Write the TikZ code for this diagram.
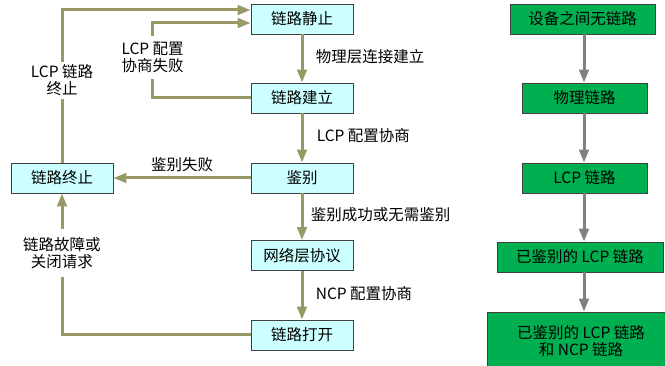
\documentclass[tikz,border=0pt]{standalone}
\usepackage{fontspec}
\setmainfont{Noto Sans CJK SC}
\usetikzlibrary{arrows.meta}

\definecolor{boxcyan}{RGB}{204,255,255}
\definecolor{linkgreen}{RGB}{0,176,80}
\definecolor{flowolive}{RGB}{153,153,102}
\definecolor{flowgray}{RGB}{128,128,128}

\begin{document}
\begin{tikzpicture}[x=1pt, y=-1pt, font=\fontsize{15.5}{17}\selectfont,
	phase/.style={draw=black!75, line width=0.8pt, fill=boxcyan, minimum width=102pt, minimum height=30pt, inner sep=0pt},
	linkbox/.style={draw=black!75, line width=0.8pt, fill=linkgreen, minimum height=30pt, inner sep=0pt, align=center},
	flow/.style={draw=flowolive, line width=3pt, -{Triangle[length=13pt,width=9.5pt]}},
	stagearrow/.style={draw=flowgray, line width=3pt, -{Triangle[length=13pt,width=9.5pt]}},
	gaptext/.style={fill=white, inner xsep=1pt}]
\useasboundingbox (0,0) rectangle (665,366);
% left: phases
\node[phase] (still) at (302,19) {链路静止};
\node[phase] (estab) at (302,98) {链路建立};
\node[phase] (auth) at (302,178) {鉴别};
\node[phase] (netp) at (302,255.5) {网络层协议};
\node[phase] (opened) at (302,335) {链路打开};
\node[phase] (term) at (62,178) {链路终止};
\foreach \a/\b/\t/\s in {still/estab/物理层连接建立/9, estab/auth/LCP 配置协商/10, auth/netp/鉴别成功或无需鉴别/4, netp/opened/NCP 配置协商/9}
	\draw[flow] (\a) -- (\b) node[midway, anchor=west, xshift=\s pt, yshift=2pt] (\a lbl) {\t};
\draw[flow] (auth) -- (term) node[midway, above=1pt] (faillbl) {鉴别失败};
\draw[flow] (opened.west) -| (term.south) node[pos=0.79, gaptext, inner ysep=8pt, align=center] (downlbl) {链路故障或\\关闭请求};
\draw[flow] (term.north) |- ([yshift=9pt]still.west) node[pos=0.27, gaptext, inner ysep=3pt, align=center] (endlbl) {LCP 链路\\终止};
\draw[flow] (estab.west) -- ++(-98,0) |- ([yshift=-4pt]still.west) node[pos=0.27, gaptext, inner ysep=6pt, align=left] (neglbl) {LCP 配置\\协商失败};
% right: link states
\node[linkbox, minimum width=145pt] (none) at (582.5,19) {设备之间无链路};
\node[linkbox, minimum width=125pt] (phys) at (584.5,98) {物理链路};
\node[linkbox, minimum width=125pt] (lcp) at (584.5,178) {LCP 链路};
\node[linkbox, minimum width=166pt] (authd) at (580,257) {已鉴别的 LCP 链路};
\node[linkbox, minimum width=188pt, minimum height=58pt] (full) at (581,341) {已鉴别的 LCP 链路\\和 NCP 链路};
\foreach \a/\b in {none/phys, phys/lcp, lcp/authd, authd/full}
	\draw[stagearrow] (\a.south -| 584,0) -- (\b.north -| 584,0);
\end{tikzpicture}
\end{document}
